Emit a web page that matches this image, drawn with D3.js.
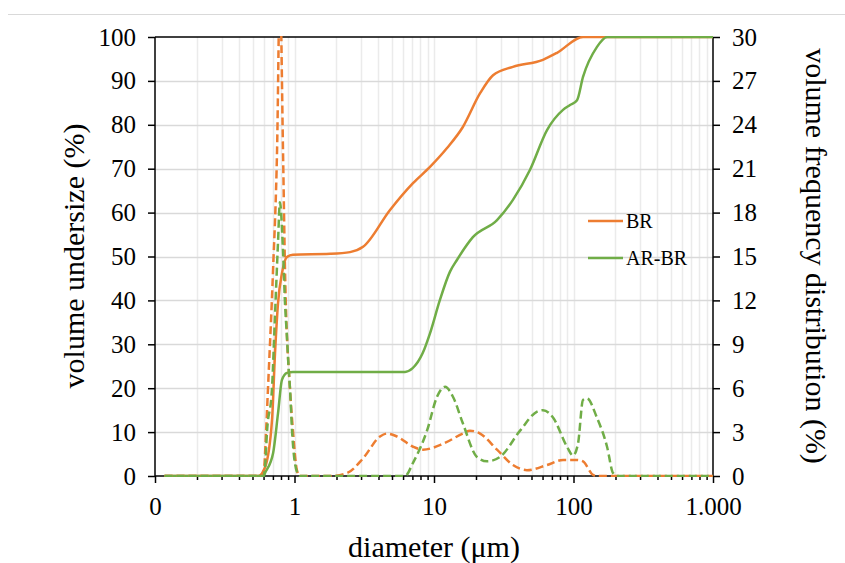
<!DOCTYPE html>
<html>
<head>
<meta charset="utf-8">
<script src="https://cdn.jsdelivr.net/npm/d3@7"></script>
<style>
  body { margin: 0; background: #fff; }
  svg { display: block; }
  text { font-family: "Liberation Serif", "Times New Roman", serif; fill: #000; }
</style>
</head>
<body>
<svg id="chart" width="845" height="563"></svg>
<script>
// ---------- DATA ----------
const seriesNames = ["BR", "AR-BR"];
const xTickValues = [0.1, 1, 10, 100, 1000];
const xTickLabels = ["0", "1", "10", "100", "1.000"];
const yLeftTicks = [0, 10, 20, 30, 40, 50, 60, 70, 80, 90, 100];
const yRightTicks = [0, 3, 6, 9, 12, 15, 18, 21, 24, 27, 30];

// cumulative (volume undersize %), BR
const brCumD = [0.117, 0.55, 0.615, 0.69, 0.725, 0.762, 0.813, 0.883, 0.975, 1.8, 2.5, 3.1, 4.84, 7.07, 9.36, 12.4, 16.1, 21.4, 26.5, 36.8, 60.4, 76.2, 117, 1000];
const brCumV = [0, 0, 2, 12.8, 28, 39.4, 46.2, 49.9, 50.4, 50.6, 51.0, 52.2, 60.6, 66.7, 70.4, 74.7, 79.5, 87.2, 91.3, 93.2, 94.8, 96.4, 100, 100];

// cumulative, AR-BR
const arCumD = [0.117, 0.6, 0.615, 0.702, 0.762, 0.813, 0.883, 0.975, 6.2, 7.0, 8.3, 9.36, 11.0, 13.0, 14.6, 19.0, 28.3, 36.8, 48.7, 64.6, 84.1, 94.4, 106, 117, 147, 174, 1000];
const arCumV = [0, 0, 0.7, 5.2, 14.3, 21.9, 23.5, 23.7, 23.7, 24.5, 28, 32.5, 40, 46.5, 49.2, 54.4, 58.3, 62.9, 69.7, 78.8, 83.4, 84.5, 85.6, 90.9, 97.7, 100, 100];

// frequency distribution (%), BR
const brFreqD = [0.117, 0.585, 0.605, 0.626, 0.645, 0.702, 0.750, 0.786, 0.827, 0.855, 0.929, 0.975, 1.04, 1.09, 1.797, 2.378, 3.097, 4.102, 4.604, 5.43, 7.07, 8.34, 11.6, 16.1, 18.1, 21.4, 28.3, 36.8, 46.4, 64.6, 84.1, 106, 117, 138, 147, 1000];
const brFreqV = [0, 0, 0.5, 3.1, 5.9, 14.1, 22.3, 33.5, 22.3, 14.1, 5.9, 3.1, 0.4, 0, 0, 0.2, 1.2, 2.7, 2.9, 2.7, 2.0, 1.8, 2.2, 2.9, 3.1, 2.9, 1.8, 0.75, 0.4, 0.75, 1.1, 1.1, 1.0, 0.07, 0, 0];

// frequency distribution (%), AR-BR
const arFreqD = [0.117, 0.6, 0.615, 0.636, 0.689, 0.725, 0.762, 0.786, 0.827, 0.855, 0.883, 0.91, 0.929, 0.96, 1.04, 1.1, 6.2, 7.07, 8.91, 10.5, 12.0, 13.7, 16.1, 20.3, 24.0, 29.7, 41.4, 54.8, 60.4, 71.3, 89.8, 99.2, 107.7, 117, 125, 147, 174, 192, 205, 1000];
const arFreqV = [0, 0, 0.6, 3.1, 5.9, 11, 16, 18.7, 15.4, 11.8, 9.5, 7.2, 5.9, 3.1, 0.3, 0, 0, 0.9, 3.1, 5.4, 6.1, 5.4, 3.6, 1.3, 1.0, 1.3, 3.1, 4.4, 4.5, 4.0, 2.0, 1.4, 2.2, 5.2, 5.3, 4.0, 2.0, 0.2, 0, 0];

// ---------- LAYOUT ----------
const ORANGE = "#ED7D31", GREEN = "#70AD47";
const L = 155, R = 713, T = 37, B = 476;
const svg = d3.select("#chart");

const x = d3.scaleLog().domain([0.1, 1000]).range([L, R]);
const yL = d3.scaleLinear().domain([0, 100]).range([B, T]);
const yR = d3.scaleLinear().domain([0, 30]).range([B, T]);

// outer top border line
svg.append("line").attr("x1", 8).attr("x2", 845).attr("y1", 14.5).attr("y2", 14.5)
  .attr("stroke", "#d9d9d9").attr("stroke-width", 1);

// minor x positions
const minorX = [];
for (let dec = 0.1; dec < 1000; dec *= 10) {
  for (let k = 2; k <= 9; k++) minorX.push(+(dec * k).toPrecision(3));
}
const gridX = minorX.concat([1, 10, 100]);

// vertical gridlines
svg.append("g").selectAll("line").data(gridX).join("line")
  .attr("x1", d => Math.round(x(d)) + 0.5).attr("x2", d => Math.round(x(d)) + 0.5)
  .attr("y1", T).attr("y2", B)
  .attr("stroke", "#ebebeb").attr("stroke-width", 1.5);

// horizontal gridlines
svg.append("g").selectAll("line").data(yLeftTicks.filter(v => v > 0 && v < 100)).join("line")
  .attr("x1", L).attr("x2", R)
  .attr("y1", d => Math.round(yL(d)) + 0.5).attr("y2", d => Math.round(yL(d)) + 0.5)
  .attr("stroke", "#d9d9d9").attr("stroke-width", 1.5);

// top border
svg.append("line").attr("x1", L).attr("x2", R).attr("y1", T).attr("y2", T)
  .attr("stroke", "#000").attr("stroke-width", 1.5);

// axes
const fmtX = d => xTickLabels[xTickValues.indexOf(d)];
const axB = svg.append("g").attr("transform", `translate(0,${B})`)
  .call(d3.axisBottom(x).tickValues(xTickValues).tickFormat(fmtX).tickSize(7).tickPadding(14));
const axBm = svg.append("g").attr("transform", `translate(0,${B})`)
  .call(d3.axisBottom(x).tickValues(minorX).tickFormat("").tickSize(4));
const axL = svg.append("g").attr("transform", `translate(${L},0)`)
  .call(d3.axisLeft(yL).tickValues(yLeftTicks).tickSize(7).tickPadding(12));
const axR = svg.append("g").attr("transform", `translate(${R},0)`)
  .call(d3.axisRight(yR).tickValues(yRightTicks).tickSize(7).tickPadding(12));

[axB, axBm, axL, axR].forEach(g => {
  g.selectAll("path.domain").attr("stroke", "#000").attr("stroke-width", 1.5);
  g.selectAll(".tick line").attr("stroke", "#000").attr("stroke-width", 1.5);
  g.selectAll(".tick text").style("font-size", "25px").style("font-family", '"Liberation Serif", serif').attr("fill", "#000");
});
axB.select("path.domain").remove();
axBm.select("path.domain").attr("d", `M${L},0H${R}`);
axL.select("path.domain").attr("d", `M0,${B}V${T}`);
axR.select("path.domain").attr("d", `M0,${B}V${T}`);

// clip
svg.append("clipPath").attr("id", "plotclip").append("rect")
  .attr("x", L).attr("y", T - 1).attr("width", R - L).attr("height", B - T + 2);

const plot = svg.append("g").attr("clip-path", "url(#plotclip)");

function drawLine(ds, vs, yScale, color, dashed) {
  const pts = ds.map((d, i) => [d, vs[i]]);
  const line = d3.line().x(p => x(p[0])).y(p => yScale(p[1])).curve(d3.curveMonotoneX);
  plot.append("path").attr("d", line(pts))
    .attr("fill", "none").attr("stroke", color).attr("stroke-width", 2.5)
    .attr("stroke-dasharray", dashed ? "8,4" : null)
    .attr("stroke-linejoin", "round");
}

drawLine(brCumD, brCumV, yL, ORANGE, false);
drawLine(arCumD, arCumV, yL, GREEN, false);
drawLine(brFreqD, brFreqV, yR, ORANGE, true);
drawLine(arFreqD, arFreqV, yR, GREEN, true);

// axis titles
svg.append("text").attr("x", 434).attr("y", 557).attr("text-anchor", "middle")
  .style("font-size", "30px").text("diameter (μm)");
svg.append("text").attr("transform", "translate(84,256) rotate(-90)").attr("text-anchor", "middle")
  .style("font-size", "30px").text("volume undersize (%)");
svg.append("text").attr("transform", "translate(806,256) rotate(90)").attr("text-anchor", "middle")
  .style("font-size", "30px").text("volume frequency distribution (%)");

// legend
const legend = svg.append("g");
[[ORANGE, 221], [GREEN, 258]].forEach((c, i) => {
  legend.append("line").attr("x1", 588).attr("x2", 623).attr("y1", c[1]).attr("y2", c[1])
    .attr("stroke", c[0]).attr("stroke-width", 2.5);
  legend.append("text").attr("x", 626).attr("y", c[1] + 7).style("font-size", "20px").text(seriesNames[i]);
});
</script>
</body>
</html>
